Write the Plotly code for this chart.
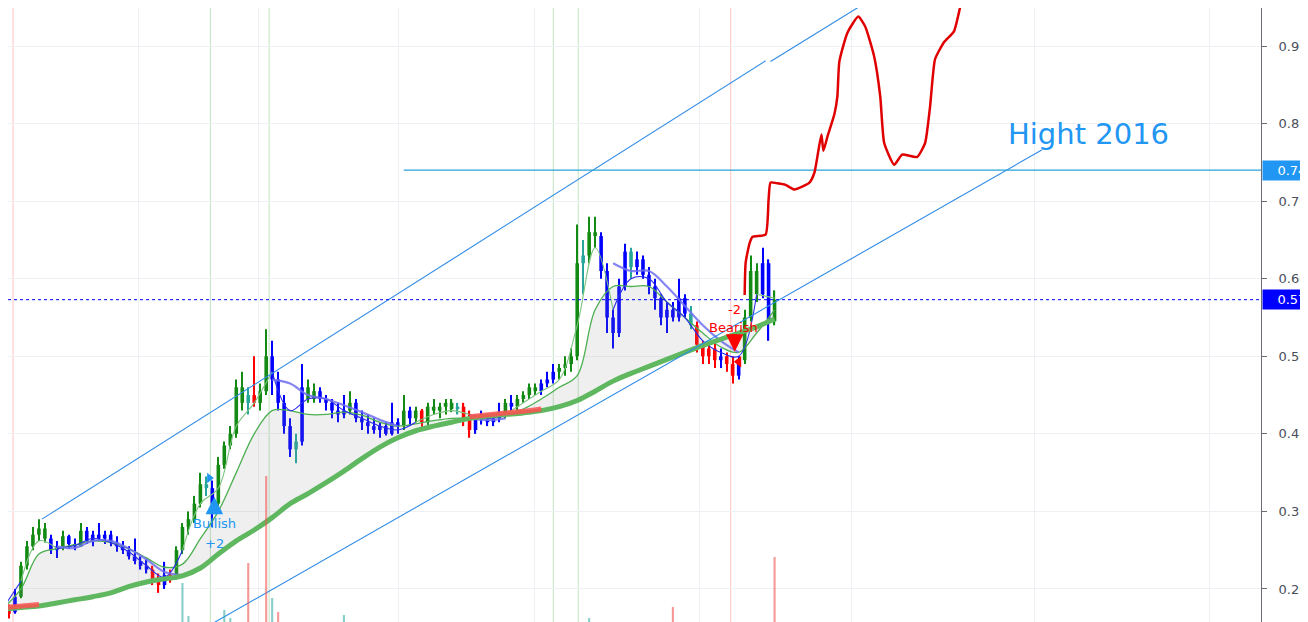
import plotly.graph_objects as go

# ---------------- data ----------------
bar_open = [.178,.175,.17,.19,.23,.255,.27,.278,.265,.25,
            .255,.268,.258,.255,.275,.262,.27,.265,.27,.26,
            .255,.25,.242,.236,.23,.225,.212,.205,.218,.215,
            .25,.28,.29,.31,.335,.33,.31,.36,.385,.40,
            .46,.44,.45,.44,.455,.50,.47,.44,.41,.38,
            .39,.46,.445,.455,.445,.44,.43,.425,.43,.44,
            .42,.415,.41,.405,.41,.40,.415,.41,.43,.42,
            .43,.415,.435,.43,.435,.44,.432,.435,.42,.405,
            .42,.418,.415,.42,.425,.44,.435,.445,.45,.46,
            .455,.465,.47,.48,.485,.49,.50,.62,.63,.66,
            .655,.61,.55,.53,.59,.635,.615,.625,.605,.59,
            .575,.55,.56,.55,.575,.555,.54,.515,.50,.51,
            .495,.50,.49,.475,.495,.55,.61,.58,.62,.545]
bar_high = [.185,.18,.20,.235,.262,.28,.29,.285,.27,.262,
            .275,.27,.265,.285,.28,.275,.285,.275,.275,.268,
            .262,.255,.265,.242,.238,.23,.22,.235,.225,.255,
            .285,.30,.32,.35,.345,.34,.37,.39,.41,.47,
            .48,.46,.50,.465,.535,.52,.48,.45,.42,.40,
            .49,.47,.465,.46,.45,.445,.44,.45,.455,.445,
            .43,.425,.42,.415,.415,.44,.42,.45,.435,.435,
            .432,.44,.445,.44,.445,.445,.44,.44,.43,.425,
            .43,.425,.425,.44,.445,.45,.45,.455,.465,.465,
            .47,.48,.49,.49,.50,.51,.67,.65,.68,.68,
            .66,.62,.56,.60,.645,.64,.635,.63,.615,.60,
            .58,.57,.57,.60,.58,.565,.545,.52,.515,.52,
            .51,.505,.50,.50,.56,.63,.62,.64,.625,.585]
bar_low = [.165,.162,.168,.188,.225,.25,.262,.26,.245,.24,
           .25,.252,.25,.254,.258,.255,.262,.258,.255,.248,
           .245,.238,.232,.225,.22,.205,.195,.20,.208,.212,
           .245,.27,.285,.305,.32,.28,.305,.355,.38,.395,
           .43,.425,.435,.43,.45,.45,.43,.40,.37,.362,
           .385,.44,.44,.44,.43,.42,.415,.42,.425,.415,
           .405,.40,.40,.395,.398,.398,.40,.405,.41,.415,
           .405,.41,.425,.42,.425,.428,.425,.41,.395,.40,
           .412,.41,.41,.415,.42,.43,.43,.44,.445,.45,
           .45,.46,.465,.47,.475,.48,.495,.58,.62,.64,
           .60,.53,.51,.525,.585,.60,.605,.60,.58,.56,
           .54,.53,.545,.545,.55,.535,.505,.49,.49,.485,
           .485,.48,.465,.47,.49,.545,.57,.575,.52,.54]
bar_close = [.172,.168,.19,.23,.255,.27,.278,.265,.25,.255,
             .268,.258,.255,.275,.262,.27,.265,.27,.26,.255,
             .25,.242,.236,.23,.225,.212,.205,.218,.215,.25,
             .28,.29,.31,.335,.33,.31,.36,.385,.40,.46,
             .44,.45,.44,.455,.50,.47,.44,.41,.38,.39,
             .46,.445,.455,.445,.44,.43,.425,.43,.44,.42,
             .415,.41,.405,.41,.40,.415,.41,.43,.42,.43,
             .415,.435,.43,.435,.44,.432,.435,.42,.405,.42,
             .418,.415,.42,.425,.44,.435,.445,.45,.46,.455,
             .465,.47,.48,.485,.49,.50,.62,.63,.66,.655,
             .61,.55,.53,.59,.635,.615,.625,.605,.59,.575,
             .55,.56,.55,.575,.555,.54,.515,.50,.51,.495,
             .50,.49,.475,.495,.55,.61,.58,.62,.545,.573]
bar_regime = list("brbgggggbb" "gbbgbbbbbb" "bbbbbrrbrg" "ggggtbgggg" "gtrggbbbbt"
                  "bggbbbbbgb" "bbbbbbbgbg" "rgggggtrrb" "bbbbgbgggg" "bbbggggtgg"
                  "bbbbbtbbbb" "bbbbbtrrrr" "brrbgggbbg")
bar_t = list(range(len(bar_close)))

ma_t = list(range(0, 130, 3))
slow_ma = [.174,.176,.178,.182,.186,.19,.195,.203,.209,.213,.217,.227,.245,.262,.276,
           .292,.31,.323,.337,.352,.368,.383,.395,.404,.41,.415,.42,.423,.425,.427,
           .43,.435,.443,.455,.468,.478,.487,.496,.505,.514,.522,.53,.538,.548]
slow_state = list("rr" + "g" * 24 + "rrrr" + "g" * 14)
mid_ma = [.175,.20,.245,.252,.257,.262,.26,.252,.24,.228,.232,.265,.30,.35,.40,
          .43,.43,.425,.425,.428,.424,.415,.41,.413,.417,.42,.42,.42,.424,.432,
          .445,.46,.475,.56,.59,.59,.59,.57,.55,.53,.512,.505,.53,.56]
fast_ma = [.175,.21,.262,.252,.256,.265,.26,.248,.23,.215,.25,.31,.33,.41,.44,
           .48,.43,.445,.445,.43,.42,.41,.405,.415,.425,.43,.425,.42,.425,.44,
           .455,.47,.54,.64,.56,.60,.60,.57,.55,.52,.505,.50,.58,.575]
fast_state = list("bggbbbbbbb" "gggggbbbbb" "bbbgggbbgg" "ggggbbbbbb" "bbgb")
lav_ma = [None,None,None,.255,.253,.262,.262,.252,.238,.222,.218,
          None,None,None,None,.47,.465,.45,.445,.437,.428,.418,.41,
          None,None,None,.42,.418,.42,
          None,None,None,None,None,.62,.61,.61,.59,.565,.54,.52,.505,None,None]

vol_t = [30, 31, 37, 38, 41, 44, 45, 46, 57, 98, 112, 129]
vol_val = [390, 60, 120, 40, 590, 1460, 240, 100, 70, 40, 150, 650]
vol_state = list("ttttrrtrttrr")

proj_t = [124.0,124.17,124.83,125.33,127.5,128.0,128.33,129.5,130.83,132.33,134.83,135.67,
          136.83,137.17,137.83,139.0,139.5,139.83,141.17,143.0,144.17,145.67,146.67,147.33,
          149.0,150.33,152.83,154.17,155.0,155.83,157.33,159.0,160.33,161.5]
proj_p = [0.579,0.621,0.646,0.654,0.657,0.702,0.724,0.723,0.721,0.715,0.724,0.737,
          0.786,0.765,0.783,0.812,0.835,0.88,0.917,0.938,0.925,0.886,0.835,0.775,
          0.747,0.76,0.757,0.775,0.822,0.883,0.905,0.919,0.96,0.986]

chan_up_t = [6.5, 127.5, None, 128.33, 149.5]
chan_up_p = [0.29, 0.881, None, 0.88, 0.981]
chan_lo_t = [32.83, 173.67]
chan_lo_p = [0.1458, 0.766]

level_2016 = 0.74
level_start_t = 67
last_price = 0.573

signal_t = [1.67, 34.67, 44.5, 92, 96.17, 121.67]
signal_kind = ["r", "g", "g", "g", "g", "r"]

time_grid = [22.67, 42.67, 66.17, 88.83, 116.5, 141.83, 172.5, 201.67]
price_ticks = [0.2, 0.3, 0.4, 0.5, 0.6, 0.7, 0.8, 0.9]

# ---------------- styling ----------------
CANDLE = {"g": "#138a13", "b": "#0000ff", "r": "#ff0000", "t": "#26a69a"}
VOLC = {"t": "rgba(38,166,154,0.55)", "r": "rgba(239,83,80,0.6)"}
SIGC = {"r": "rgba(255,82,82,0.35)", "g": "rgba(76,175,80,0.35)"}
BLUE = "#2196f3"
FONT = "DejaVu Sans"

fig = go.Figure()

# fill between mid MA and slow MA
fig.add_trace(go.Scatter(x=ma_t, y=slow_ma, mode="lines", line=dict(width=0, shape="spline"),
                         hoverinfo="skip"))
fig.add_trace(go.Scatter(x=ma_t, y=mid_ma, mode="lines", line=dict(width=0, shape="spline"),
                         fill="tonexty", fillcolor="rgba(140,140,140,0.14)", hoverinfo="skip"))

# candles: wicks and bodies
cols = [CANDLE[k] for k in bar_regime]
fig.add_trace(go.Bar(x=bar_t, base=bar_low, y=[h - l for h, l in zip(bar_high, bar_low)],
                     width=0.2, marker=dict(color=cols, line=dict(width=0)), hoverinfo="skip"))
fig.add_trace(go.Bar(x=bar_t, base=[min(o, c) for o, c in zip(bar_open, bar_close)],
                     y=[max(abs(c - o), 0.0025) for o, c in zip(bar_open, bar_close)],
                     width=0.6, marker=dict(color=cols, line=dict(width=0)), hoverinfo="skip"))

# mid MA
fig.add_trace(go.Scatter(x=ma_t, y=mid_ma, mode="lines",
                         line=dict(color="#4caf50", width=1.3, shape="spline")))


def runs(xs, ys, states):
    out = []
    s = 0
    n = len(xs)
    for k in range(1, n + 1):
        if k == n or states[k] != states[s]:
            e = min(k, n - 1)
            out.append((xs[s:e + 1], ys[s:e + 1], states[s]))
            s = k
    return out


for xs, ys, st in runs(ma_t, fast_ma, fast_state):
    fig.add_trace(go.Scatter(x=xs, y=ys, mode="lines",
                             line=dict(color="#7cc47f" if st == "g" else "#2a2aee",
                                       width=1.1, shape="spline")))

fig.add_trace(go.Scatter(x=ma_t, y=lav_ma, mode="lines", connectgaps=False,
                         line=dict(color="rgba(110,110,240,0.85)", width=2.2, shape="spline")))

# slow MA
fig.add_trace(go.Scatter(x=ma_t, y=slow_ma, mode="lines",
                         line=dict(color="#5fb760", width=5, shape="spline")))
for xs, ys, st in runs(ma_t, slow_ma, slow_state):
    if st == "r":
        fig.add_trace(go.Scatter(x=xs, y=[v + 0.002 for v in ys], mode="lines",
                                 line=dict(color="rgba(255,80,80,0.85)", width=5)))

# channel lines and levels
fig.add_trace(go.Scatter(x=chan_up_t, y=chan_up_p, mode="lines", connectgaps=False,
                         line=dict(color="#2f8be6", width=1.1)))
fig.add_trace(go.Scatter(x=chan_lo_t, y=chan_lo_p, mode="lines",
                         line=dict(color="#2f8be6", width=1.1)))
fig.add_trace(go.Scatter(x=[level_start_t, 215], y=[level_2016, level_2016], mode="lines",
                         line=dict(color="#2aa0d8", width=1.1)))

# projection
fig.add_trace(go.Scatter(x=proj_t, y=proj_p, mode="lines",
                         line=dict(color="#e00000", width=2.5, shape="spline", smoothing=0.5)))

# signal markers
fig.add_trace(go.Scatter(x=[34.5], y=[0.343], mode="markers",
                         marker=dict(symbol="triangle-right", size=9, color=BLUE)))
fig.add_trace(go.Scatter(x=[123.0], y=[0.493], mode="markers",
                         marker=dict(symbol="triangle-left", size=10, color="#ff0000")))

# volume
fig.add_trace(go.Bar(x=vol_t, y=vol_val, width=0.35, yaxis="y2",
                     marker=dict(color=[VOLC[s] for s in vol_state], line=dict(width=0))))

shapes = []
for t, k in zip(signal_t, signal_kind):
    shapes.append(dict(type="line", xref="x", yref="paper", x0=t, x1=t, y0=0, y1=1,
                       line=dict(color=SIGC[k], width=1), layer="below"))
shapes.append(dict(type="line", xref="paper", yref="y", x0=0, x1=1, y0=last_price, y1=last_price,
                   line=dict(color="#0000ff", width=1, dash="dot")))

annotations = [
    dict(x=181.5, y=0.786, xref="x", yref="y", text="Hight 2016", showarrow=False,
         font=dict(family=FONT, size=29, color=BLUE)),
    dict(x=35.33, y=0.284, xref="x", yref="y", text="Bullish", showarrow=False,
         font=dict(family=FONT, size=13, color=BLUE)),
    dict(x=35.33, y=0.259, xref="x", yref="y", text="+2", showarrow=False,
         font=dict(family=FONT, size=13, color=BLUE)),
    dict(x=35.33, y=0.319, xref="x", yref="y", text="", showarrow=True, ax=0, ay=19,
         arrowhead=2, arrowsize=0.7, arrowwidth=5, arrowcolor=BLUE),
    dict(x=122.2, y=0.537, xref="x", yref="y", text="Bearish", showarrow=False,
         font=dict(family=FONT, size=13, color="#ff0000")),
    dict(x=122.33, y=0.56, xref="x", yref="y", text="-2", showarrow=False,
         font=dict(family=FONT, size=13, color="#ff0000")),
    dict(x=122.33, y=0.506, xref="x", yref="y", text="", showarrow=True, ax=0, ay=-19,
         arrowhead=2, arrowsize=0.7, arrowwidth=5, arrowcolor="#ff0000"),
    dict(x=1, y=level_2016, xref="paper", yref="y", xanchor="left", yanchor="middle", xshift=1,
         text="\u00a0\u00a0\u00a00.740", showarrow=False, bgcolor=BLUE, borderpad=2,
         font=dict(family=FONT, size=13, color="white")),
    dict(x=1, y=last_price, xref="paper", yref="y", xanchor="left", yanchor="middle", xshift=1,
         text="\u00a0\u00a0\u00a00.573", showarrow=False, bgcolor="#0000ff", borderpad=2,
         font=dict(family=FONT, size=13, color="white")),
]

# page body has an 8px margin: figure is 1300x614 and axis ranges start 8px in
fig.update_layout(
    width=1300, height=614,
    margin=dict(l=0, r=35, t=0, b=0),
    paper_bgcolor="white", plot_bgcolor="white",
    showlegend=False, barmode="overlay", hovermode=False,
    shapes=shapes, annotations=annotations,
    xaxis=dict(range=[0.833, 210.33], tickvals=time_grid, showticklabels=False,
               showgrid=True, gridcolor="#eef0f4", zeroline=False, showline=False, ticks=""),
    yaxis=dict(range=[0.1574, 0.9491], side="right", tickvals=price_ticks, tickformat=".2f",
               showgrid=True, gridcolor="#eef0f4", zeroline=False, showline=True,
               linecolor="#6a6d78", ticks="outside", ticklen=5, tickcolor="#6a6d78",
               tickfont=dict(family=FONT, size=13, color="#4a4e59"), ticklabelstandoff=9),
    yaxis2=dict(range=[0, 6140], overlaying="y", visible=False),
)

fig.write_html("out.html")
